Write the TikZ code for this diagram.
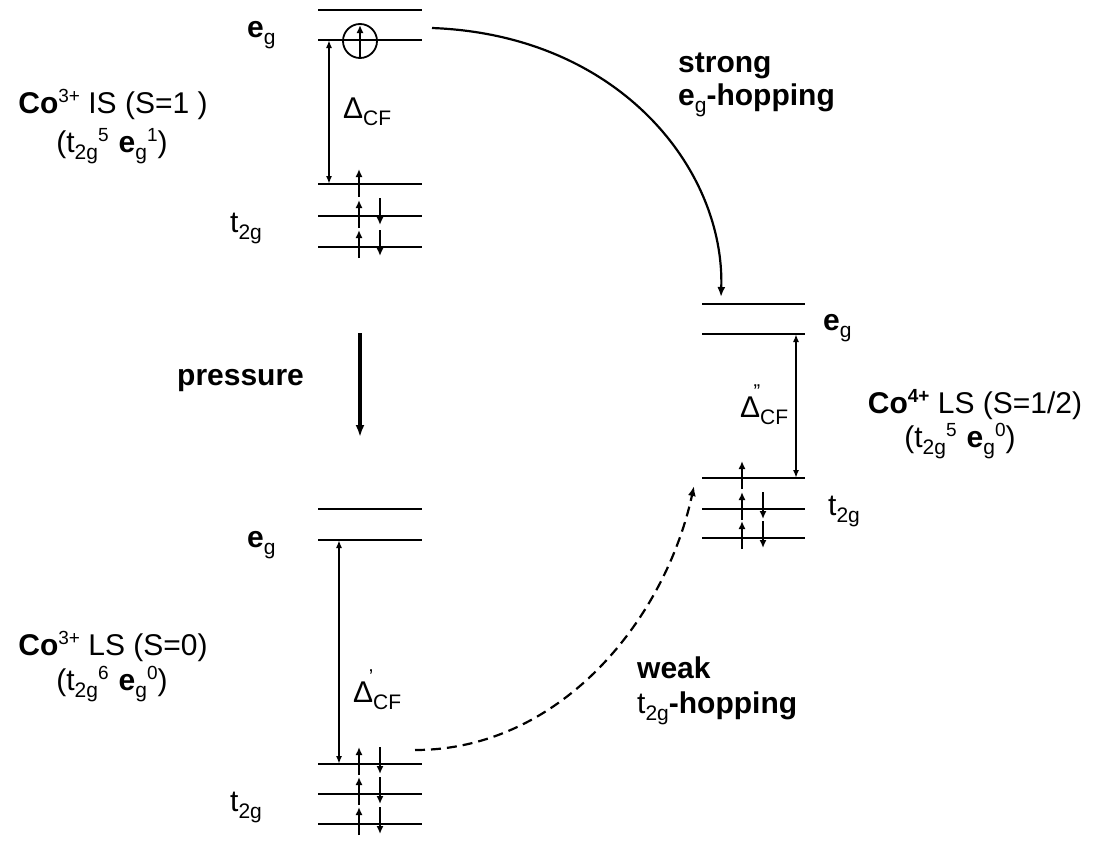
\documentclass[tikz,border=0pt]{standalone}
\usepackage{fontspec}
\setmainfont{Liberation Sans}
\usetikzlibrary{arrows.meta,calc}
\newcommand\mysub[1]{\raisebox{-7pt}{\fontsize{21}{21}\selectfont #1}}
\newcommand\mysup[1]{\raisebox{11pt}{\fontsize{19}{19}\selectfont #1}}
\newcommand\cosup[1]{\raisebox{11pt}{\fontsize{19}{19}\selectfont #1}}
\newcommand\prm[1]{\makebox[0pt][r]{\raisebox{19pt}{\fontsize{20}{20}\selectfont #1}\hspace{0pt}}}
\tikzset{
  lvl/.style={line width=2.6pt},
  thinlvl/.style={line width=1.6pt},
  el/.style={line width=2pt,-{Latex[length=8pt,width=7pt]}},
  dlt/.style={line width=2.2pt,{Latex[length=8pt,width=6pt]}-{Latex[length=8pt,width=6pt]}},
  lbl/.style={inner sep=0pt,anchor=base west,font=\fontsize{30}{34}\selectfont},
  clbl/.style={inner sep=0pt,anchor=base,font=\fontsize{30}{34}\selectfont},
  blbl/.style={lbl,font=\bfseries\fontsize{30}{34}\selectfont},
  hop/.style={line width=2.2pt,-{Latex[length=10pt,width=8pt]}}
}
\begin{document}
\begin{tikzpicture}[x=1pt,y=-1pt]
\useasboundingbox (0,0) rectangle (1101,841);
% ---------- top-left: Co3+ IS ----------
\coordinate (A1l) at (318,10);  \coordinate (A1r) at (422,10);
\coordinate (A2l) at (318,40);  \coordinate (A2r) at (422,40);
\coordinate (A3l) at (318,184); \coordinate (A3r) at (422,184);
\coordinate (A4l) at (318,216); \coordinate (A4r) at (422,216);
\coordinate (A5l) at (318,247); \coordinate (A5r) at (422,247);
\draw[thinlvl] (A1l) -- (A1r);
\foreach \i in {2,3,4,5} \draw[lvl] (A\i l) -- (A\i r);
\coordinate (Atop) at (329,40); \coordinate (Abot) at (329,184);
\draw[dlt] (Atop) -- (Abot);
\node[lbl] (dA) at (343,118) {Δ\mysub{CF}};
\node[circle,draw,line width=1.8pt,minimum size=34pt,inner sep=0pt] (circ) at (360,41) {};
\draw[el] (360,58) -- (360,25);
\draw[el] (359,197) -- (359,169);
\draw[el] (359,228) -- (359,200);
\draw[el] (380,198) -- (380,225);
\draw[el] (359,258) -- (359,230);
\draw[el] (380,230) -- (380,256);
\node[lbl] (egA) at (247,37) {\textbf{e}\mysub{g}};
\node[lbl] (tgA) at (230,232) {t\mysub{2g}};
\node[clbl] (coA1) at (113,113) {\textbf{Co}\cosup{3+} IS (S=1 )};
\node[clbl] (coA2) at (112,152) {(t\mysub{2g}\mysup{5}\hspace{10pt}\textbf{e}\mysub{g}\mysup{1})};
% ---------- pressure ----------
\coordinate (pT) at (360,333); \coordinate (pB) at (360,437);
\draw[line width=4pt,-{Latex[length=12pt,width=9pt]}] (pT) -- (pB);
\node[blbl] (press) at (177,385) {pressure};
% ---------- bottom-left: Co3+ LS ----------
\coordinate (B1l) at (318,509); \coordinate (B1r) at (422,509);
\coordinate (B2l) at (318,540); \coordinate (B2r) at (422,540);
\coordinate (B3l) at (318,764); \coordinate (B3r) at (422,764);
\coordinate (B4l) at (318,794); \coordinate (B4r) at (422,794);
\coordinate (B5l) at (318,824); \coordinate (B5r) at (422,824);
\foreach \i in {1,2,3,4,5} \draw[lvl] (B\i l) -- (B\i r);
\coordinate (Btop) at (339,540); \coordinate (Bbot) at (339,764);
\draw[dlt] (Btop) -- (Bbot);
\node[lbl] (dB) at (353,702) {Δ\prm{'}\mysub{CF}};
\draw[el] (359,775) -- (359,747);
\draw[el] (380,747) -- (380,774);
\draw[el] (359,805) -- (359,777);
\draw[el] (380,777) -- (380,804);
\draw[el] (359,835) -- (359,807);
\draw[el] (380,807) -- (380,834);
\node[lbl] (egB) at (247,547) {\textbf{e}\mysub{g}};
\node[lbl] (tgB) at (230,811) {t\mysub{2g}};
\node[clbl] (coB1) at (113,655) {\textbf{Co}\cosup{3+} LS (S=0)};
\node[clbl] (coB2) at (112,690) {(t\mysub{2g}\mysup{6}\hspace{10pt}\textbf{e}\mysub{g}\mysup{0})};
% ---------- right: Co4+ LS ----------
\coordinate (C1l) at (702,304); \coordinate (C1r) at (805,304);
\coordinate (C2l) at (702,334); \coordinate (C2r) at (805,334);
\coordinate (C3l) at (702,478); \coordinate (C3r) at (805,478);
\coordinate (C4l) at (702,509); \coordinate (C4r) at (805,509);
\coordinate (C5l) at (702,538); \coordinate (C5r) at (805,538);
\foreach \i in {1,2,3,4,5} \draw[lvl] (C\i l) -- (C\i r);
\coordinate (Ctop) at (796,334); \coordinate (Cbot) at (796,478);
\draw[dlt,line width=2.8pt] (Ctop) -- (Cbot);
\node[lbl] (dC) at (740,417) {Δ\prm{''}\mysub{CF}};
\draw[el] (742,489) -- (742,461);
\draw[el] (742,520) -- (742,492);
\draw[el] (763,492) -- (763,519);
\draw[el] (742,549) -- (742,521);
\draw[el] (763,521) -- (763,548);
\node[lbl] (egC) at (823,330) {\textbf{e}\mysub{g}};
\node[lbl] (tgC) at (828,515) {t\mysub{2g}};
\node[clbl] (coC1) at (975,413) {\textbf{Co}\cosup{\textbf{4+}} LS (S=1/2)};
\node[clbl] (coC2) at (960,447) {(t\mysub{2g}\mysup{5}\hspace{10pt}\textbf{e}\mysub{g}\mysup{0})};
% ---------- hopping arrows ----------
\coordinate (sS) at (432,28); \coordinate (sE) at (721,297);
\draw[hop] (sS) .. controls (620,35) and (725,170) .. (sE);
\node[blbl] (strong1) at (678,72) {strong};
\node[blbl] (strong2) at (678,105) {e\mysub{\mdseries g}-hopping};
\coordinate (wS) at (415,750); \coordinate (wE) at (694,486);
\draw[hop,dash pattern=on 10pt off 6pt] (wS) .. controls (560,750) and (665,620) .. (wE);
\node[blbl] (weak1) at (637,678) {weak};
\node[blbl] (weak2) at (637,713) {\mdseries t\mysub{2g}\bfseries-hopping};
\end{tikzpicture}
\end{document}
